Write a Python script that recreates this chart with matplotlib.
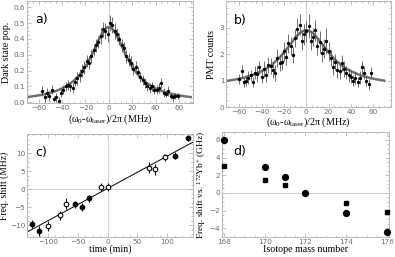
import numpy as np
import matplotlib
matplotlib.use("Agg")
import matplotlib.pyplot as plt
from matplotlib.ticker import AutoMinorLocator

plt.rcParams['mathtext.fontset'] = 'custom'
plt.rcParams['mathtext.rm'] = 'Liberation Serif'
plt.rcParams['mathtext.it'] = 'Liberation Serif:italic'

# ---------------- data ----------------
# panel a: dark state population vs detuning
a_x = [-57, -55, -53, -51, -49, -47, -45, -43, -41, -39, -37, -35, -33, -31, -29, -27,
       -25, -23, -21, -19, -17, -15, -13, -11, -9, -7, -5, -3, -1, 1, 3, 5, 7, 9, 11,
       13, 15, 17, 19, 21, 23, 25, 27, 29, 31, 33, 35, 37, 39, 41, 43, 45, 47, 49, 51,
       53, 55, 57, 59]
a_y = [0.07, 0.03, 0.06, 0.04, 0.08, 0.02, 0.03, 0.01, 0.06, 0.08, 0.10, 0.11, 0.10,
       0.09, 0.13, 0.15, 0.17, 0.20, 0.22, 0.26, 0.25, 0.29, 0.33, 0.36, 0.38, 0.42,
       0.46, 0.45, 0.43, 0.50, 0.49, 0.45, 0.43, 0.40, 0.36, 0.34, 0.29, 0.27, 0.25,
       0.21, 0.22, 0.19, 0.16, 0.14, 0.12, 0.10, 0.09, 0.10, 0.08, 0.08, 0.09, 0.12,
       0.06, 0.05, 0.07, 0.04, 0.03, 0.04, 0.04]
a_err = [0.03, 0.03, 0.03, 0.03, 0.03, 0.02, 0.03, 0.02, 0.03, 0.03, 0.03, 0.03, 0.03,
         0.03, 0.03, 0.04, 0.04, 0.04, 0.04, 0.04, 0.04, 0.04, 0.04, 0.04, 0.04, 0.05,
         0.05, 0.05, 0.05, 0.05, 0.05, 0.05, 0.04, 0.04, 0.04, 0.04, 0.04, 0.04, 0.04,
         0.04, 0.04, 0.03, 0.03, 0.03, 0.03, 0.03, 0.03, 0.03, 0.03, 0.03, 0.03, 0.03,
         0.03, 0.02, 0.03, 0.02, 0.02, 0.02, 0.02]
a_fit = dict(amp=0.475, hwhm=19.0, offset=0.0)

# panel b: PMT counts vs detuning
b_x = [-60, -58, -56, -54, -52, -50, -48, -46, -44, -42, -40, -38, -36, -34, -32, -30,
       -28, -26, -24, -22, -20, -18, -16, -14, -12, -10, -8, -6, -4, -2, 0, 2, 4, 6, 8,
       10, 12, 14, 16, 18, 20, 22, 24, 26, 28, 30, 32, 34, 36, 38, 40, 42, 44, 46, 48,
       50, 52, 54, 56, 58]
b_y = [1.05, 1.35, 0.95, 1.0, 1.1, 1.2, 0.95, 1.3, 1.25, 1.5, 1.15, 1.45, 1.2, 1.6,
       1.55, 1.4, 1.3, 1.85, 1.65, 1.7, 2.1, 1.9, 2.4, 2.3, 1.95, 2.6, 2.95, 3.1, 2.5,
       2.75, 2.85, 3.05, 2.5, 2.65, 2.9, 2.3, 2.45, 2.05, 2.2, 2.5, 2.1, 1.85, 1.5, 1.7,
       1.4, 1.35, 1.65, 1.45, 1.3, 1.2, 1.15, 1.0, 1.1, 0.95, 1.1, 1.5, 1.3, 1.0, 0.85, 1.3]
b_err = [0.2, 0.25, 0.2, 0.2, 0.25, 0.2, 0.2, 0.25, 0.3, 0.25, 0.25, 0.3, 0.25, 0.3,
         0.3, 0.3, 0.3, 0.35, 0.3, 0.3, 0.35, 0.3, 0.35, 0.35, 0.3, 0.35, 0.4, 0.4, 0.35,
         0.4, 0.4, 0.45, 0.35, 0.35, 0.4, 0.35, 0.4, 0.35, 0.35, 0.5, 0.35, 0.3, 0.3, 0.3,
         0.3, 0.3, 0.3, 0.3, 0.25, 0.25, 0.25, 0.2, 0.25, 0.2, 0.25, 0.25, 0.25, 0.2, 0.2, 0.2]
b_fit = dict(amp=2.15, hwhm=25.0, offset=0.75)

# panel c: frequency shift vs time
c_t = [-127, -115, -100, -80, -69, -55, -43, -31, -11, 0, 69, 79, 96, 113, 134]
c_y = [-9.6, -11.5, -10.1, -7.2, -4.0, -4.2, -4.9, -2.5, 0.6, 0.6, 6.0, 5.5, 8.9, 9.3, 14.3]
c_err = [1.0, 1.3, 1.4, 1.2, 1.5, 1.0, 1.2, 0.9, 1.2, 1.2, 1.5, 1.5, 1.0, 1.0, 0.8]
c_filled = [True, True, False, False, False, True, True, True, False, False, False, False,
            False, True, True]

# panel d: isotope shifts
d_mass = [168, 170, 171, 172, 174, 176]
d_circle = [6.0, 2.9, 1.8, 0.0, -2.3, -4.4]
d_sq_mass = [168, 170, 171, 174, 176]
d_square = [3.07, 1.5, 0.94, -1.09, -2.2]

# ---------------- style helpers ----------------
TICK_C = '#6a6a6a'
FRAME_C = '#b8b8b8'
GRID_C = '#d0d0d0'
SERIF = 'Liberation Serif'
LAB_FS = 7.2


def style(ax):
    for s in ax.spines.values():
        s.set_color(FRAME_C)
        s.set_linewidth(0.7)
    ax.tick_params(which='both', direction='in', top=True, right=True, colors=FRAME_C,
                   labelcolor=TICK_C, labelsize=5.2, width=0.6, pad=1.2)
    ax.tick_params(which='major', length=3)
    ax.tick_params(which='minor', length=1.5)
    ax.xaxis.set_minor_locator(AutoMinorLocator(4))
    ax.yaxis.set_minor_locator(AutoMinorLocator(4))
    for lab in ax.get_xticklabels() + ax.get_yticklabels():
        lab.set_fontfamily('DejaVu Sans')


def lorentz(x, p):
    x = np.asarray(x, dtype=float)
    return p['offset'] + p['amp'] / (1 + (x / p['hwhm']) ** 2)


W, H = 395, 257
fig = plt.figure(figsize=(W / 100, H / 100), dpi=100)


def axbox(l, t, r, b):
    return fig.add_axes([l / W, 1 - b / H, (r - l) / W, (b - t) / H])


ax_a = axbox(27, 1, 193, 103)
ax_b = axbox(226, 1, 391, 107)
ax_c = axbox(27, 134, 193, 237)
ax_d = axbox(222, 132, 389, 237)

omega_label = r'($\mathregular{\omega_0}$-$\mathregular{\omega_{laser}}$)/2π (MHz)'

# panel a
ax = ax_a
ax.axvline(0, color=GRID_C, lw=0.7, zorder=0)
xf = np.linspace(-70, 70, 300)
ax.plot(xf, lorentz(xf, a_fit), color='#707070', lw=1.8, zorder=2)
ax.errorbar(a_x, a_y, yerr=a_err, fmt='o', ms=1.4, color='black', ecolor='#555555',
            elinewidth=0.6, capsize=0, zorder=3)
ax.set_xlim(-70, 72)
ax.set_ylim(-0.005, 0.64)
ax.set_xticks([-60, -40, -20, 0, 20, 40, 60])
ax.set_yticks([0.0, 0.1, 0.2, 0.3, 0.4, 0.5, 0.6])
ax.set_yticklabels(['0.0', '0.1', '0.2', '0.3', '0.4', '0.5', '0.6'])
style(ax)
ax.set_ylabel('Dark state pop.', family=SERIF, fontsize=LAB_FS, labelpad=2)
ax.set_xlabel(omega_label, family=SERIF, fontsize=LAB_FS, labelpad=1)
ax.text(0.05, 0.88, 'a)', transform=ax.transAxes, fontsize=9, va='top')

# panel b
ax = ax_b
ax.axvline(0, color=GRID_C, lw=0.7, zorder=0)
ax.plot(xf, lorentz(xf, b_fit), color='#707070', lw=1.8, zorder=2)
ax.errorbar(b_x, b_y, yerr=b_err, fmt='o', ms=1.4, color='black', ecolor='#555555',
            elinewidth=0.6, capsize=0, zorder=3)
ax.set_xlim(-72, 76)
ax.set_ylim(0, 4.0)
ax.set_xticks([-60, -40, -20, 0, 20, 40, 60])
ax.set_yticks([0, 1, 2, 3])
style(ax)
ax.set_ylabel('PMT counts', family=SERIF, fontsize=LAB_FS, labelpad=3)
ax.set_xlabel(omega_label, family=SERIF, fontsize=LAB_FS, labelpad=0.5)
ax.text(0.05, 0.88, 'b)', transform=ax.transAxes, fontsize=9, va='top')

# panel c
ax = ax_c
ax.axvline(0, color=GRID_C, lw=0.7, zorder=0)
ax.axhline(0, color=GRID_C, lw=0.7, zorder=0)
slope, icpt = np.polyfit(c_t, c_y, 1)
tl = np.array([-140, 145])
ax.plot(tl, slope * tl + icpt, color='black', lw=0.7, zorder=2)
for t, y, e, f in zip(c_t, c_y, c_err, c_filled):
    ax.errorbar([t], [y], yerr=[e], fmt='o', ms=3.3, mew=0.8, color='black',
                mfc='black' if f else 'white', elinewidth=0.7, capsize=0, zorder=3)
ax.set_xlim(-135, 143)
ax.set_ylim(-13.2, 15.3)
ax.set_xticks([-100, -50, 0, 50, 100])
ax.set_yticks([-10, -5, 0, 5, 10])
style(ax)
ax.set_ylabel('Freq. shift (MHz)', family=SERIF, fontsize=6.9, labelpad=0.5)
ax.set_xlabel('time (min)', family=SERIF, fontsize=LAB_FS, labelpad=0)
ax.text(0.05, 0.88, 'c)', transform=ax.transAxes, fontsize=9, va='top')

# panel d
ax = ax_d
ax.axhline(0, color=GRID_C, lw=0.7, zorder=0)
ax.plot(d_mass, d_circle, 'o', ms=4.2, color='black', zorder=3, clip_on=False)
ax.plot(d_sq_mass, d_square, 's', ms=2.6, color='black', zorder=3, clip_on=False)
ax.set_xlim(167.9, 176.1)
ax.set_ylim(-5.0, 6.9)
ax.set_xticks([168, 170, 172, 174, 176])
ax.set_yticks([-4, -2, 0, 2, 4, 6])
style(ax)
ax.set_ylabel(r'Freq. shift vs. $\mathregular{^{172}}$Yb$\mathregular{^{+}}$ (GHz)',
              family=SERIF, fontsize=6.8, labelpad=1)
ax.set_xlabel('Isotope mass number', family=SERIF, fontsize=LAB_FS, labelpad=0)
ax.text(0.07, 0.88, 'd)', transform=ax.transAxes, fontsize=9, va='top')

fig.savefig('out.png', dpi=100)
